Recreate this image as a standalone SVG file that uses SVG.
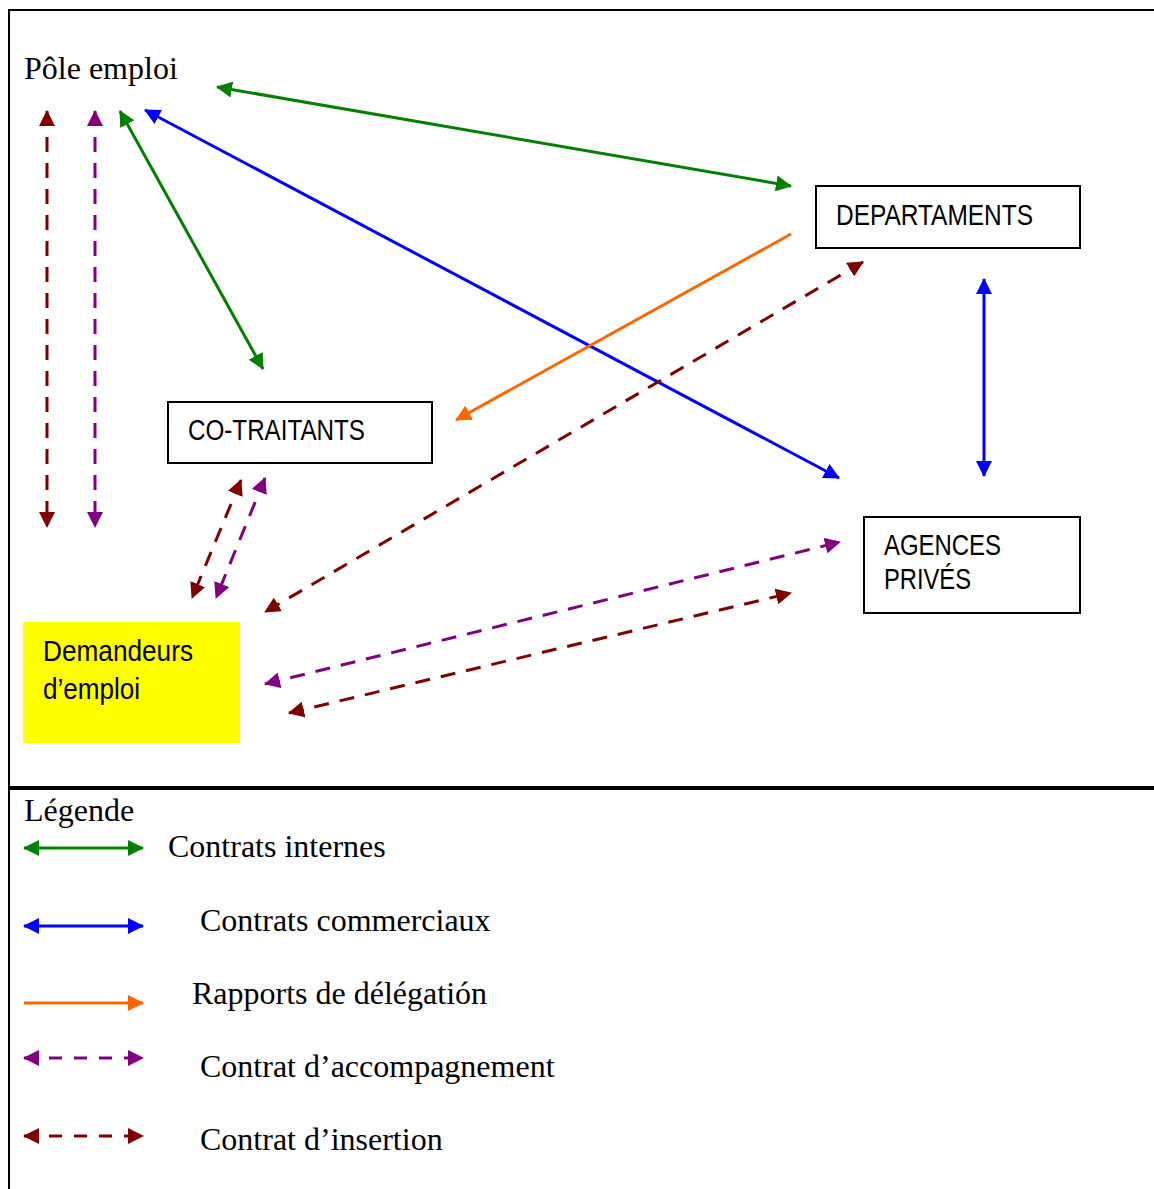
<svg xmlns="http://www.w3.org/2000/svg" width="1154" height="1189" viewBox="0 0 1154 1189">
<style>
.serif{font-family:"Liberation Serif","Times New Roman",serif;font-size:32px;fill:#000}
.sans{font-family:"Liberation Sans",Arial,sans-serif;font-size:30px;fill:#000}
.box{fill:#fff;stroke:#000;stroke-width:2}
.c{fill:none;stroke-width:3}
.g{stroke:#008000}.b{stroke:#0000FF}.o{stroke:#FF6600}.p{stroke:#800080}.r{stroke:#800000}
.d{stroke-dasharray:15 11}
</style>
<defs>
<marker id="mg" viewBox="0 0 16 16" refX="15" refY="8" markerWidth="16" markerHeight="16" markerUnits="userSpaceOnUse" orient="auto-start-reverse"><path d="M0,0 L16,8 L0,16 z" fill="#008000"/></marker>
<marker id="mb" viewBox="0 0 16 16" refX="15" refY="8" markerWidth="16" markerHeight="16" markerUnits="userSpaceOnUse" orient="auto-start-reverse"><path d="M0,0 L16,8 L0,16 z" fill="#0000FF"/></marker>
<marker id="mo" viewBox="0 0 16 16" refX="15" refY="8" markerWidth="16" markerHeight="16" markerUnits="userSpaceOnUse" orient="auto-start-reverse"><path d="M0,0 L16,8 L0,16 z" fill="#FF6600"/></marker>
<marker id="mp" viewBox="0 0 16 16" refX="15" refY="8" markerWidth="16" markerHeight="16" markerUnits="userSpaceOnUse" orient="auto-start-reverse"><path d="M0,0 L16,8 L0,16 z" fill="#800080"/></marker>
<marker id="mr" viewBox="0 0 16 16" refX="15" refY="8" markerWidth="16" markerHeight="16" markerUnits="userSpaceOnUse" orient="auto-start-reverse"><path d="M0,0 L16,8 L0,16 z" fill="#800000"/></marker>
</defs>
<rect width="1154" height="1189" fill="#fff"/>
<g id="frame">
<line x1="8" y1="10" x2="1154" y2="10" stroke="#000" stroke-width="2"/>
<line x1="9" y1="9" x2="9" y2="1189" stroke="#000" stroke-width="2"/>
<line x1="8" y1="788" x2="1154" y2="788" stroke="#000" stroke-width="4"/>
</g>
<g id="pole-emploi"><text class="serif" x="24" y="79">Pôle emploi</text></g>
<g id="departaments"><rect class="box" x="816" y="186" width="264" height="62"/><text class="sans" x="836" y="225" textLength="197" lengthAdjust="spacingAndGlyphs">DEPARTAMENTS</text></g>
<g id="co-traitants"><rect class="box" x="168" y="402" width="264" height="61"/><text class="sans" x="188" y="440" textLength="177" lengthAdjust="spacingAndGlyphs">CO-TRAITANTS</text></g>
<g id="agences"><rect class="box" x="864" y="517" width="216" height="96"/><text class="sans" x="884" y="555" textLength="117" lengthAdjust="spacingAndGlyphs">AGENCES</text><text class="sans" x="884" y="589" textLength="87" lengthAdjust="spacingAndGlyphs">PRIVÉS</text></g>
<g id="demandeurs"><rect x="23" y="622" width="217" height="121" fill="#FFFF00"/><text class="sans" x="43" y="661" textLength="150" lengthAdjust="spacingAndGlyphs">Demandeurs</text><text class="sans" x="43" y="699" textLength="97" lengthAdjust="spacingAndGlyphs">d’emploi</text></g>
<g id="connectors">
<line class="c g" x1="217" y1="87" x2="791" y2="186" marker-start="url(#mg)" marker-end="url(#mg)"/>
<line class="c g" x1="120" y1="111" x2="263" y2="369" marker-start="url(#mg)" marker-end="url(#mg)"/>
<line class="c b" x1="145" y1="110" x2="839" y2="478" marker-start="url(#mb)" marker-end="url(#mb)"/>
<line class="c r d" x1="47" y1="111" x2="47" y2="527" marker-start="url(#mr)" marker-end="url(#mr)"/>
<line class="c p d" x1="95" y1="111" x2="95" y2="527" marker-start="url(#mp)" marker-end="url(#mp)"/>
<line class="c o" x1="791" y1="234" x2="456" y2="420" marker-end="url(#mo)"/>
<line class="c r d" x1="863" y1="262" x2="265" y2="612" marker-start="url(#mr)" marker-end="url(#mr)"/>
<line class="c b" x1="984" y1="279" x2="984" y2="476" marker-start="url(#mb)" marker-end="url(#mb)"/>
<line class="c r d" x1="241" y1="480" x2="192" y2="598" marker-start="url(#mr)" marker-end="url(#mr)"/>
<line class="c p d" x1="265" y1="478" x2="216" y2="598" marker-start="url(#mp)" marker-end="url(#mp)"/>
<line class="c p d" x1="265" y1="684" x2="840" y2="542" marker-start="url(#mp)" marker-end="url(#mp)"/>
<line class="c r d" x1="289" y1="713" x2="791" y2="593" marker-start="url(#mr)" marker-end="url(#mr)"/>
</g>
<g id="legend">
<text class="serif" x="24" y="821">Légende</text>
<line class="c g" x1="24" y1="848" x2="143" y2="848" marker-start="url(#mg)" marker-end="url(#mg)"/>
<text class="serif" x="168" y="857">Contrats internes</text>
<line class="c b" x1="24" y1="926" x2="143" y2="926" marker-start="url(#mb)" marker-end="url(#mb)"/>
<text class="serif" x="200" y="931">Contrats commerciaux</text>
<line class="c o" x1="24" y1="1003" x2="143" y2="1003" marker-end="url(#mo)"/>
<text class="serif" x="192" y="1004">Rapports de délégatión</text>
<line class="c p" x1="24" y1="1058" x2="143" y2="1058" stroke-dasharray="13 12" marker-start="url(#mp)" marker-end="url(#mp)"/>
<text class="serif" x="200" y="1077">Contrat d’accompagnement</text>
<line class="c r" x1="24" y1="1136" x2="143" y2="1136" stroke-dasharray="13 12" marker-start="url(#mr)" marker-end="url(#mr)"/>
<text class="serif" x="200" y="1150">Contrat d’insertion</text>
</g>
</svg>
